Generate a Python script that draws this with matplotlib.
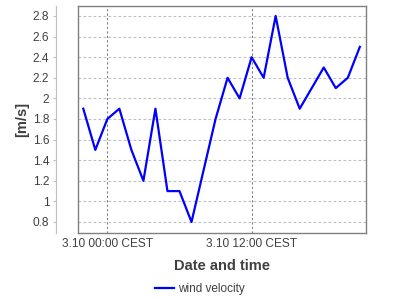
import matplotlib
matplotlib.use("Agg")
import matplotlib.pyplot as plt
import matplotlib.dates as mdates
from matplotlib.lines import Line2D
from matplotlib.ticker import FuncFormatter, MultipleLocator
from datetime import datetime, timedelta

plt.rcParams['font.family'] = ['Liberation Sans', 'DejaVu Sans']

start = datetime(2021, 10, 2, 22, 0)
hours = list(range(24))
velocity = [1.9, 1.5, 1.8, 1.9, 1.5, 1.2, 1.9, 1.1, 1.1, 0.8, 1.3, 1.8,
            2.2, 2.0, 2.4, 2.2, 2.8, 2.2, 1.9, 2.1, 2.3, 2.1, 2.2, 2.5]
times = [start + timedelta(hours=h) for h in hours]
series_name = "wind velocity"
x_label = "Date and time"
y_label = "[m/s]"

txt = '#404040'
fig = plt.figure(figsize=(4, 3), dpi=100)
ax = fig.add_axes([0.195, 0.2243, 0.719, 0.7557])

ax.plot(times, velocity, color='#0000ff', lw=1.6, label=series_name)

ax.set_ylim(0.696, 2.897)
ax.set_xlim(start - timedelta(hours=0.44), start + timedelta(hours=23.48))
ax.yaxis.set_major_locator(MultipleLocator(0.2))
ax.yaxis.set_major_formatter(FuncFormatter(lambda v, p: f"{v:.1f}".rstrip('0').rstrip('.')))
ax.xaxis.set_major_locator(mdates.HourLocator(byhour=[0, 12]))

def fmt(v, p):
    d = mdates.num2date(v)
    return f"{d.day}.{d.month} {d:%H:%M} CEST"
ax.xaxis.set_major_formatter(FuncFormatter(fmt))

ax.grid(axis='y', color='#c0c0c0', ls=(0, (2.5, 2)), lw=0.8)
ax.grid(axis='x', color='#808080', ls=(0, (2, 2)), lw=0.8)

for s in ['top', 'right', 'bottom']:
    ax.spines[s].set_color('#808080')
    ax.spines[s].set_linewidth(1.0)
ax.spines['left'].set_position(('outward', 15.6))
ax.spines['left'].set_color('#c0c0c0')
ax.spines['left'].set_linewidth(0.9)
ax.add_line(Line2D([0, 0], [0, 1], transform=ax.transAxes, color='#808080', lw=1.0, clip_on=False))

ax.tick_params(axis='y', length=2, width=0.8, color='#c0c0c0', labelcolor=txt, labelsize=8.6, pad=3)
ax.tick_params(axis='x', length=0, labelcolor=txt, labelsize=8.6, pad=4)

ax.set_xlabel(x_label, fontsize=10.5, fontweight='bold', color=txt, labelpad=6)
ax.set_ylabel(y_label, fontsize=10.5, fontweight='bold', color=txt, labelpad=3)

leg = fig.legend(loc='center', bbox_to_anchor=(0.5, 1 - 289 / 300), frameon=False,
                 fontsize=8.5, handlelength=1.6, handletextpad=0.3, labelcolor=txt)

fig.savefig('out.png', dpi=100)
